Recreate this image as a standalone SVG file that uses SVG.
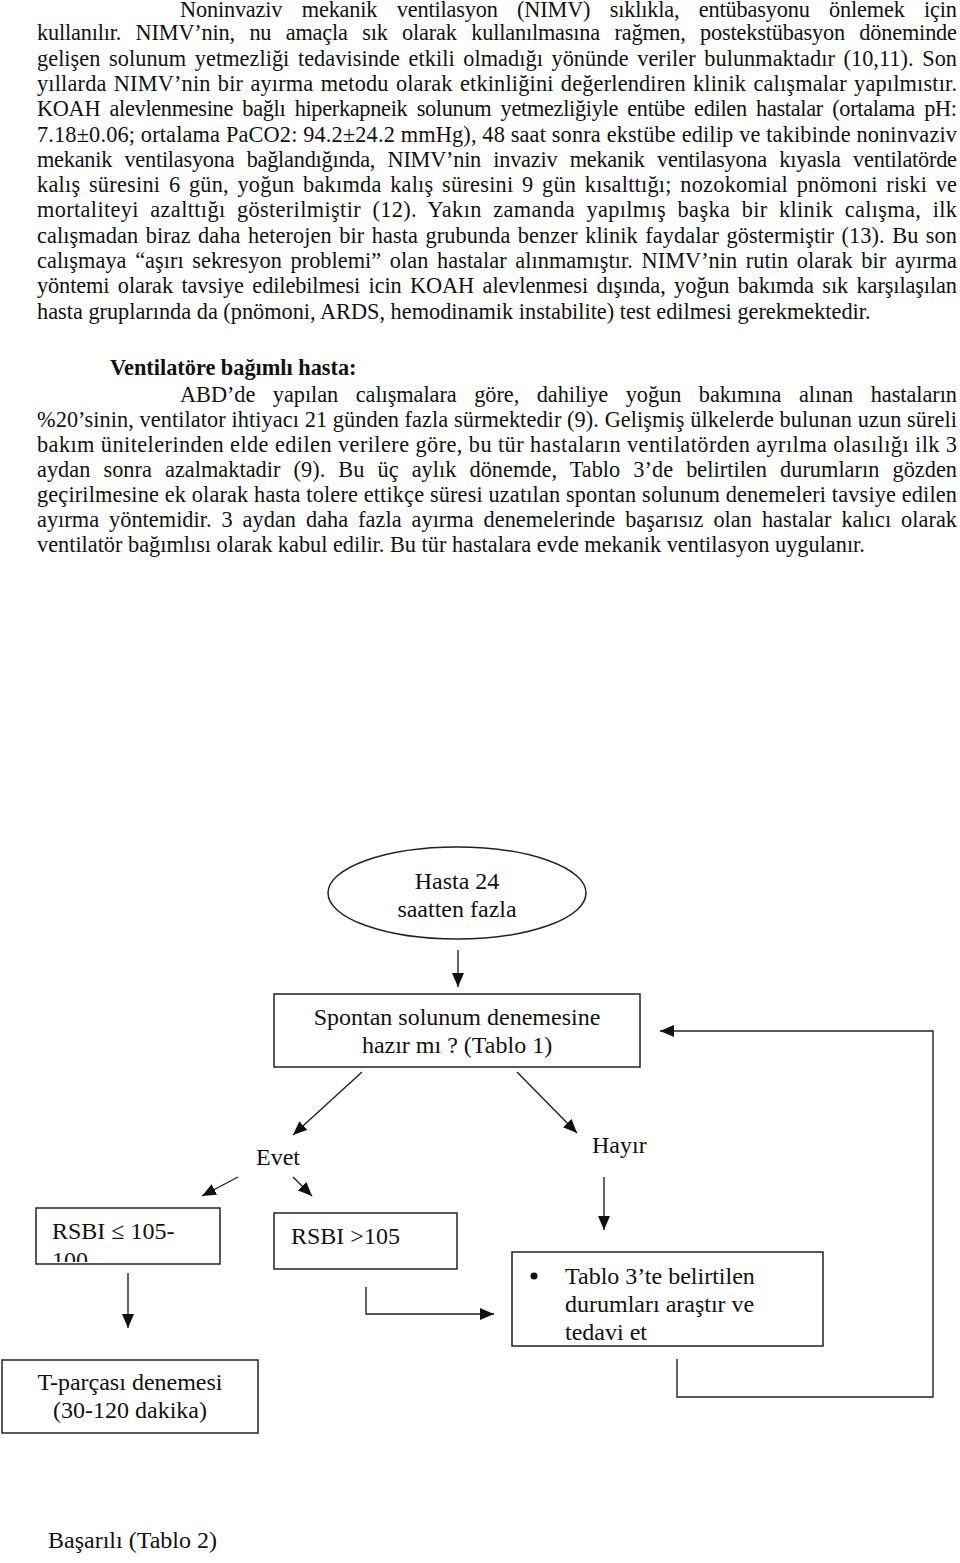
<svg xmlns="http://www.w3.org/2000/svg" width="960" height="1563" viewBox="0 0 960 1563">
<style>
.b{font-family:"Liberation Serif","Times New Roman",serif;font-size:22.3px;fill:#111}
.h{font-family:"Liberation Serif","Times New Roman",serif;font-size:22.3px;font-weight:bold;fill:#111}
.f{font-family:"Liberation Serif","Times New Roman",serif;font-size:24px;fill:#111}
.shape{fill:#fff;stroke:#222;stroke-width:1.5}
.con{fill:none;stroke:#222;stroke-width:1.4}
</style>
<defs>
<marker id="ah" markerUnits="userSpaceOnUse" markerWidth="14" markerHeight="12" refX="14" refY="6" orient="auto">
<path d="M0,0 L14,6 L0,12 z" fill="#111"/>
</marker>
<clipPath id="clipRs"><rect x="37" y="1209" width="182" height="53"/></clipPath>
<clipPath id="clipT3"><rect x="513" y="1253" width="309" height="90"/></clipPath>
</defs>
<rect width="960" height="1563" fill="#fff"/>
<g id="text-body">
<text class="b" x="180" y="17" word-spacing="14" textLength="777" lengthAdjust="spacing">Noninvaziv mekanik  ventilasyon (NIMV) sıklıkla, entübasyonu önlemek için</text>
<text class="b" x="37" y="40.3" word-spacing="9" textLength="920" lengthAdjust="spacing">kullanılır. NIMV’nin, nu amaçla sık olarak kullanılmasına rağmen, postekstübasyon döneminde</text>
<text class="b" x="37" y="65.6" word-spacing="3" textLength="920" lengthAdjust="spacing">gelişen solunum yetmezliği tedavisinde etkili olmadığı yönünde veriler bulunmaktadır (10,11). Son</text>
<text class="b" x="37" y="90.9" word-spacing="1.5" textLength="920" lengthAdjust="spacing">yıllarda NIMV’nin bir ayırma metodu olarak etkinliğini değerlendiren klinik calışmalar yapılmıstır.</text>
<text class="b" x="37" y="116.2" word-spacing="4" textLength="920" lengthAdjust="spacing">KOAH alevlenmesine bağlı hiperkapneik solunum yetmezliğiyle entübe edilen hastalar (ortalama pH:</text>
<text class="b" x="37" y="141.5" word-spacing="0" textLength="920" lengthAdjust="spacing">7.18±0.06; ortalama PaCO2: 94.2±24.2 mmHg), 48 saat sonra ekstübe edilip ve takibinde noninvaziv</text>
<text class="b" x="37" y="166.8" word-spacing="7" textLength="920" lengthAdjust="spacing">mekanik ventilasyona bağlandığında, NIMV’nin invaziv mekanik ventilasyona kıyasla ventilatörde</text>
<text class="b" x="37" y="192.1" word-spacing="2.8" textLength="920" lengthAdjust="spacing">kalış süresini 6 gün, yoğun bakımda kalış süresini 9 gün  kısalttığı; nozokomial pnömoni riski ve</text>
<text class="b" x="37" y="217.4" word-spacing="5.5" textLength="920" lengthAdjust="spacing">mortaliteyi azalttığı gösterilmiştir (12). Yakın zamanda yapılmış başka bir klinik calışma, ilk</text>
<text class="b" x="37" y="242.7" word-spacing="1.8" textLength="920" lengthAdjust="spacing">calışmadan biraz daha heterojen bir hasta grubunda benzer klinik faydalar göstermiştir (13). Bu son</text>
<text class="b" x="37" y="268" word-spacing="3" textLength="920" lengthAdjust="spacing">calışmaya “aşırı sekresyon problemi” olan hastalar alınmamıştır. NIMV’nin rutin olarak bir ayırma</text>
<text class="b" x="37" y="293.3" word-spacing="3" textLength="920" lengthAdjust="spacing">yöntemi olarak tavsiye edilebilmesi icin KOAH alevlenmesi dışında, yoğun bakımda sık karşılaşılan</text>
<text class="b" x="37" y="318.6">hasta gruplarında da (pnömoni, ARDS, hemodinamik instabilite) test edilmesi gerekmektedir.</text>
<text class="h" x="110" y="375">Ventilatöre bağımlı hasta:</text>
<text class="b" x="180" y="402" word-spacing="12" textLength="777" lengthAdjust="spacing">ABD’de yapılan calışmalara göre, dahiliye yoğun bakımına alınan hastaların</text>
<text class="b" x="37" y="427" word-spacing="0" textLength="920" lengthAdjust="spacing">%20’sinin, ventilator ihtiyacı 21 günden fazla sürmektedir (9). Gelişmiş ülkelerde bulunan uzun süreli</text>
<text class="b" x="37" y="452" word-spacing="0" textLength="920" lengthAdjust="spacing">bakım ünitelerinden elde edilen verilere göre, bu tür hastaların ventilatörden ayrılma olasılığı ilk 3</text>
<text class="b" x="37" y="477" word-spacing="7.5" textLength="920" lengthAdjust="spacing">aydan sonra azalmaktadir (9). Bu üç  aylık dönemde, Tablo 3’de belirtilen durumların gözden</text>
<text class="b" x="37" y="502" word-spacing="0" textLength="920" lengthAdjust="spacing">geçirilmesine ek olarak hasta tolere ettikçe süresi uzatılan spontan solunum denemeleri tavsiye edilen</text>
<text class="b" x="37" y="527" word-spacing="4.3" textLength="920" lengthAdjust="spacing">ayırma yöntemidir. 3 aydan daha fazla ayırma denemelerinde başarısız olan hastalar kalıcı olarak</text>
<text class="b" x="37" y="552">ventilatör bağımlısı olarak kabul edilir. Bu tür hastalara evde mekanik ventilasyon uygulanır.</text>
</g>
<g id="connectors">
<line class="con" x1="458" y1="950" x2="458" y2="987" marker-end="url(#ah)"/>
<line class="con" x1="362" y1="1072" x2="293" y2="1135" marker-end="url(#ah)"/>
<line class="con" x1="517" y1="1072" x2="577" y2="1133" marker-end="url(#ah)"/>
<line class="con" x1="238" y1="1177" x2="202" y2="1196" marker-end="url(#ah)"/>
<line class="con" x1="293" y1="1177" x2="312" y2="1196" marker-end="url(#ah)"/>
<line class="con" x1="604" y1="1177" x2="604" y2="1230" marker-end="url(#ah)"/>
<line class="con" x1="128" y1="1273" x2="128" y2="1328" marker-end="url(#ah)"/>
<polyline class="con" points="366,1287 366,1314 494,1314" marker-end="url(#ah)"/>
<polyline class="con" points="677,1359 677,1397 933,1397 933,1031 660,1031" marker-end="url(#ah)"/>
</g>
<g id="start">
<ellipse class="shape" cx="457" cy="893" rx="129" ry="46"/>
<text class="f" x="457" y="889" text-anchor="middle">Hasta 24</text>
<text class="f" x="457" y="917" text-anchor="middle">saatten fazla</text>
</g>
<g id="spontan">
<rect class="shape" x="274" y="994" width="366" height="73"/>
<text class="f" x="457" y="1025" text-anchor="middle">Spontan solunum denemesine</text>
<text class="f" x="457" y="1053" text-anchor="middle">hazır mı ? (Tablo 1)</text>
</g>
<g id="evet"><text class="f" x="256" y="1165">Evet</text></g>
<g id="hayir"><text class="f" x="592" y="1153">Hayır</text></g>
<g id="rsbi-low">
<rect class="shape" x="36" y="1208" width="184" height="56"/>
<g clip-path="url(#clipRs)">
<text class="f" x="52" y="1239">RSBI ≤ 105-</text>
<text class="f" x="52" y="1268">100</text>
</g>
</g>
<g id="rsbi-high">
<rect class="shape" x="274" y="1213" width="183" height="56"/>
<text class="f" x="291" y="1244">RSBI &gt;105</text>
</g>
<g id="tablo3">
<rect class="shape" x="512" y="1252" width="311" height="94"/>
<g clip-path="url(#clipT3)">
<circle cx="534" cy="1276" r="3.5" fill="#111"/>
<text class="f" x="565" y="1284">Tablo 3’te belirtilen</text>
<text class="f" x="565" y="1312">durumları araştır ve</text>
<text class="f" x="565" y="1340">tedavi et</text>
</g>
</g>
<g id="tparca">
<rect class="shape" x="2" y="1360" width="256" height="73"/>
<text class="f" x="130" y="1390" text-anchor="middle">T-parçası denemesi</text>
<text class="f" x="130" y="1418" text-anchor="middle">(30-120 dakika)</text>
</g>
<g id="basarili"><text class="f" x="48" y="1548">Başarılı (Tablo 2)</text></g>
</svg>
